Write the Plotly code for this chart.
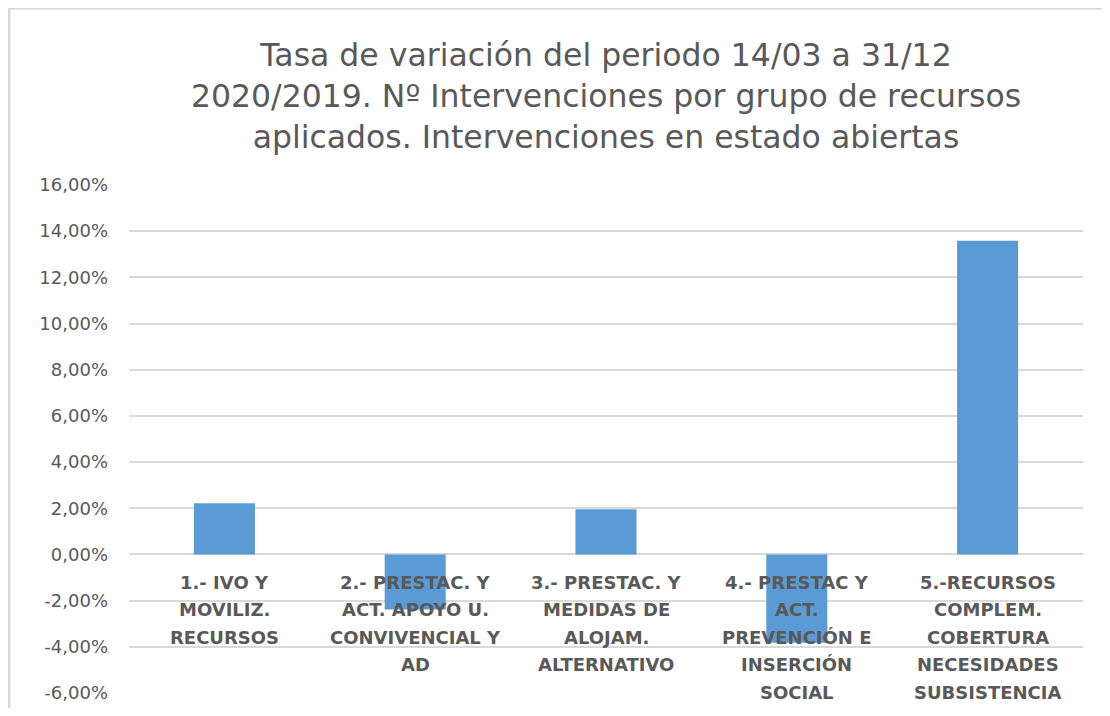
import plotly.graph_objects as go

categories = [
    "1.- IVO Y<br>MOVILIZ.<br>RECURSOS",
    "2.- PRESTAC. Y<br>ACT. APOYO U.<br>CONVIVENCIAL Y<br>AD",
    "3.- PRESTAC. Y<br>MEDIDAS DE<br>ALOJAM.<br>ALTERNATIVO",
    "4.- PRESTAC Y<br>ACT.<br>PREVENCIÓN E<br>INSERCIÓN<br>SOCIAL",
    "5.-RECURSOS<br>COMPLEM.<br>COBERTURA<br>NECESIDADES<br>SUBSISTENCIA",
]
values = [2.22, -2.38, 1.96, -3.82, 13.59]
tick_vals = [-6, -4, -2, 0, 2, 4, 6, 8, 10, 12, 14, 16]
tick_text = [f"{v:.2f}".replace(".", ",") + "%" for v in tick_vals]

title_lines = [
    "Tasa de variación del periodo 14/03 a 31/12",
    "2020/2019. Nº Intervenciones por grupo de recursos",
    "aplicados. Intervenciones en estado abiertas",
]

# figure is drawn inside the page with an 8px body margin
W, H = 1094, 700
L, R, T, B = 120.5, 18.5, 177, 15
pw, ph = W - L - R, H - T - B

FONT = "DejaVu Sans, Verdana, sans-serif"
GRAY = "#595959"

x_idx = list(range(len(categories)))

fig = go.Figure()
fig.add_trace(go.Bar(
    x=x_idx, y=values, width=0.32,
    marker=dict(color="#5b9bd5", line=dict(width=0)),
    hoverinfo="y",
))

annotations = []
for i, cat in enumerate(categories):
    for j, line in enumerate(cat.split("<br>")):
        annotations.append(dict(
            x=i, y=0, xref="x", yref="y", text=line, showarrow=False,
            yanchor="middle", yshift=-28 - 27.5 * j,
            font=dict(family=FONT, size=18, color=GRAY, weight="bold"),
        ))

fig.update_layout(
    width=W, height=H,
    margin=dict(l=L, r=R, t=T, b=B, autoexpand=False),
    paper_bgcolor="white", plot_bgcolor="white",
    title=dict(text="<br>".join(title_lines), x=0.5, xref="paper", xanchor="center",
               y=1 - 58 / H, yanchor="middle", yref="container",
               font=dict(family=FONT, size=31.5, color=GRAY)),
    xaxis=dict(range=[-0.5, 4.5], showticklabels=False, showgrid=False,
               zeroline=False, showline=False, fixedrange=True, automargin=False),
    yaxis=dict(range=[-6, 16], tickvals=tick_vals, ticktext=tick_text,
               showgrid=True, gridcolor="#d9d9d9", gridwidth=1.5,
               zeroline=True, zerolinecolor="#d9d9d9", zerolinewidth=1.5,
               showline=False, ticks="", ticklabelstandoff=20, automargin=False,
               tickfont=dict(family=FONT, size=18, color=GRAY)),
    annotations=annotations,
    showlegend=False,
)

# outer chart border (light gray), as in the source image
fig.add_shape(type="rect", xref="paper", yref="paper",
              x0=(0.5 - L) / pw, x1=(W + 20 - L) / pw,
              y0=-(B + 20) / ph, y1=1 + (T - 0.5) / ph,
              line=dict(color="#d9d9d9", width=2.5), fillcolor="rgba(0,0,0,0)", layer="below")

fig.write_html("out.html")
